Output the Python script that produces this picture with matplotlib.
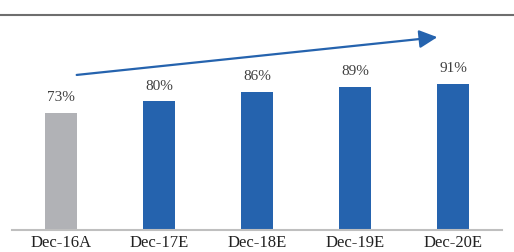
import numpy as np
import matplotlib.pyplot as plt
from matplotlib.lines import Line2D

categories = ['Dec-16A', 'Dec-17E', 'Dec-18E', 'Dec-19E', 'Dec-20E']
values = [73, 80, 86, 89, 91]
labels = ['73%', '80%', '86%', '89%', '91%']
colors = ['#B1B2B6', '#2563AE', '#2563AE', '#2563AE', '#2563AE']

plt.rcParams['font.family'] = ['Liberation Serif', 'DejaVu Serif']

fig = plt.figure(figsize=(5.14, 2.53), dpi=100)
ax = fig.add_axes([12 / 514, 22 / 253, 490 / 514, 215 / 253])

x = np.arange(len(categories))
ax.bar(x, values, width=0.33, color=colors)
for xi, v, lab in zip(x, values, labels):
    ax.text(xi, v + 6, lab, ha='center', va='bottom', fontsize=11, color='#404040')

ax.set_xlim(-0.5, 4.5)
ax.set_ylim(0, 133.8)
ax.set_xticks(x)
ax.set_xticklabels(categories, fontsize=12, color='#222222')
ax.tick_params(axis='x', length=0, pad=3)
ax.set_yticks([])
for s in ['top', 'right', 'left']:
    ax.spines[s].set_visible(False)
ax.spines['bottom'].set_color('#BFBFBF')
ax.spines['bottom'].set_linewidth(1.5)

# trend arrow
ax.annotate('', xy=(3.84, 120), xytext=(0.16, 96.5),
            arrowprops=dict(arrowstyle='-|>,head_length=1.1,head_width=0.55',
                            color='#2563AE', lw=1.6, shrinkA=0, shrinkB=0))

# top rule
fig.add_artist(Line2D([0, 1], [1 - 16 / 253, 1 - 16 / 253], color='#6E6E6E', lw=1.5,
                      transform=fig.transFigure))

fig.savefig('out.png', dpi=100)
